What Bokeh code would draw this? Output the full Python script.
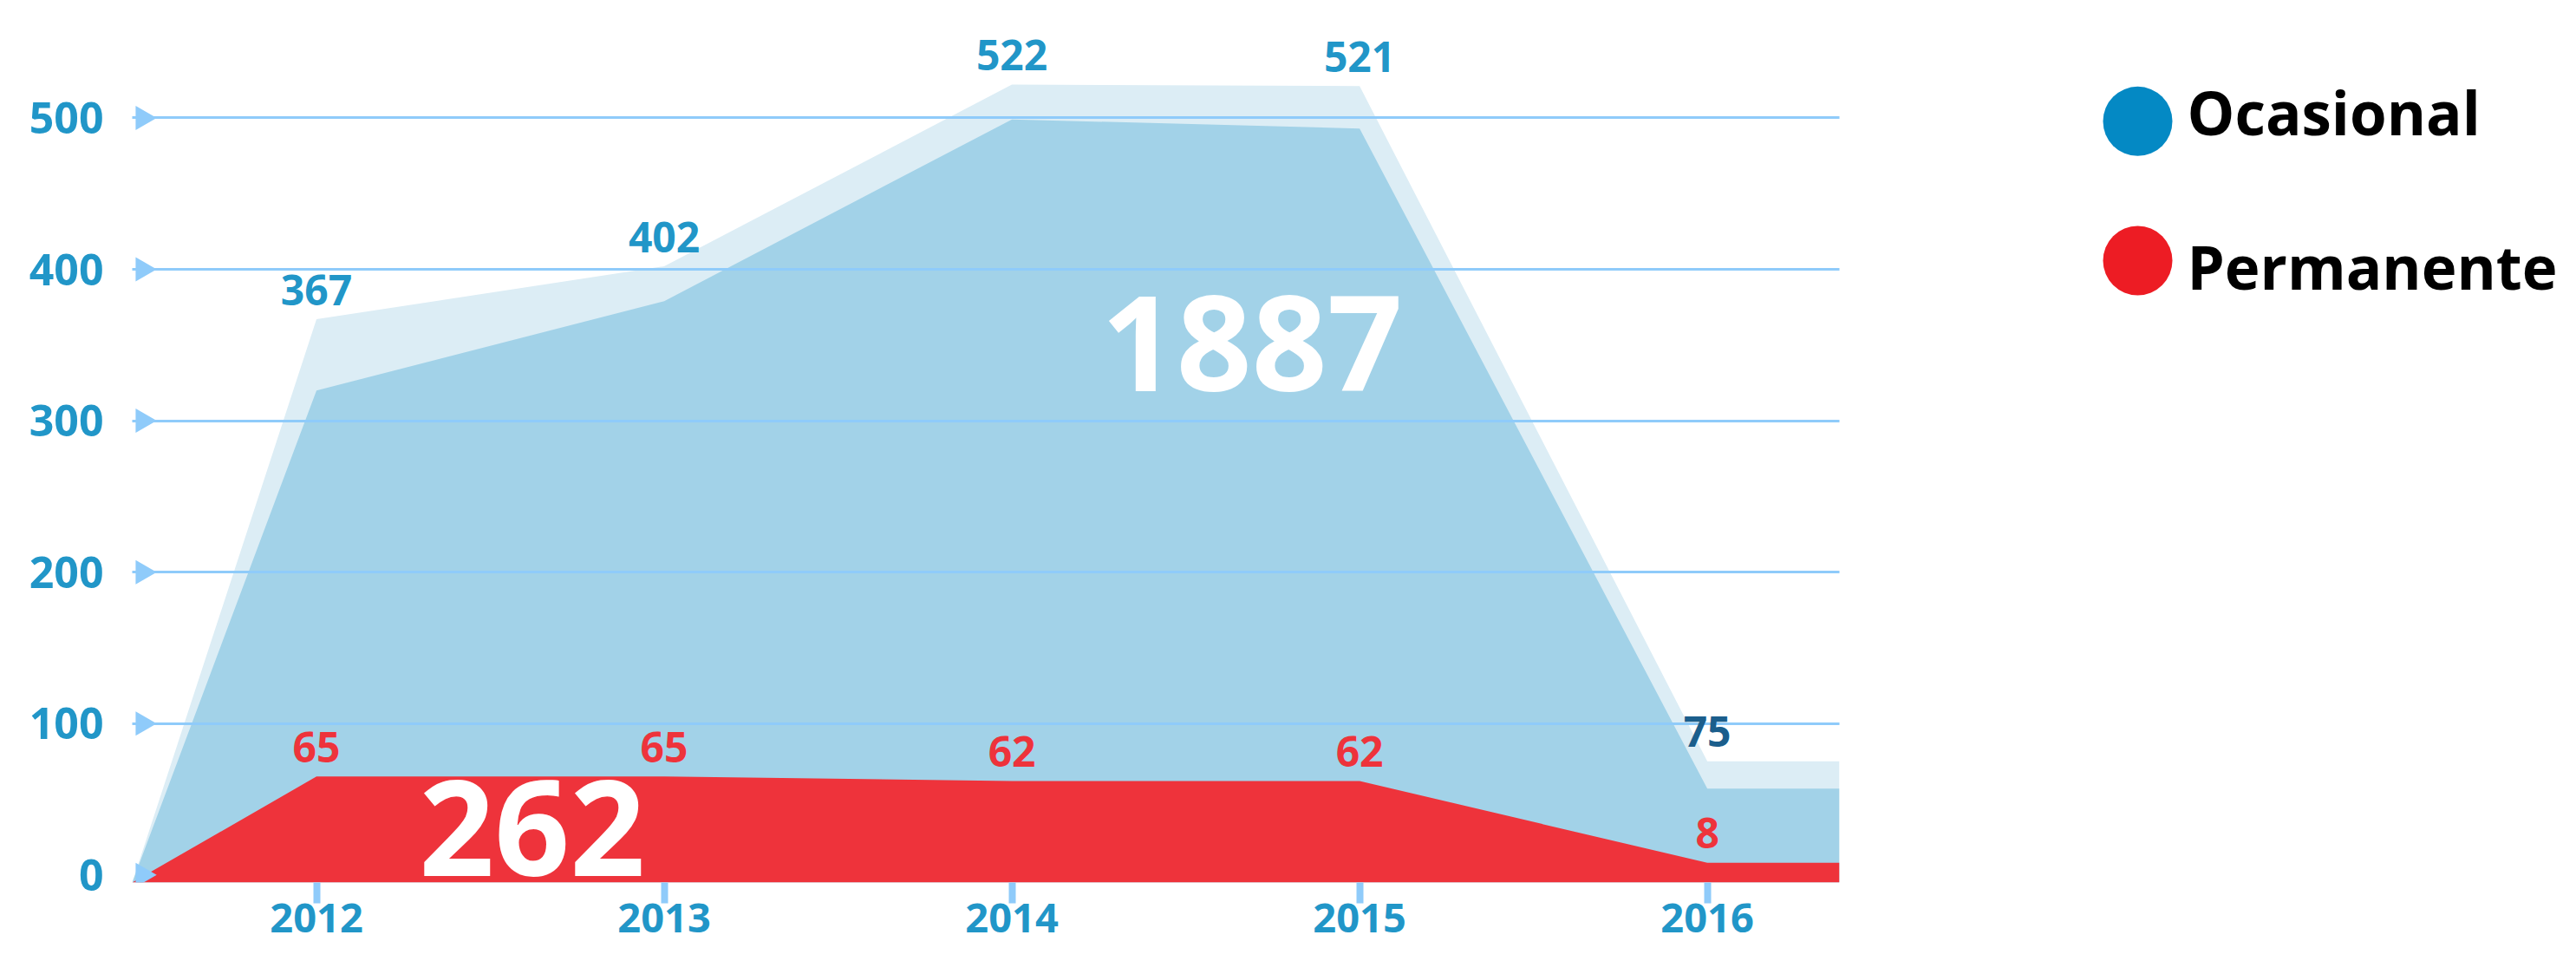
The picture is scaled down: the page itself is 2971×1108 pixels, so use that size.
from bokeh.plotting import figure
from bokeh.models import Range1d, FixedTicker, Label
from bokeh.layouts import row
from bokeh.embed import file_html
from bokeh.resources import INLINE
from bokeh.core.properties import value
import math

# ---------------- data ----------------
years = [2012, 2013, 2014, 2015, 2016]
ocasional = [367, 402, 522, 521, 75]
ocasional_front = [320, 379, 499, 493, 57]   # inner (darker) layer as drawn in the picture
permanente = [65, 65, 62, 62, 8]
y_ticks = [0, 100, 200, 300, 400, 500]
series_names = ["Ocasional", "Permanente"]

# ---------------- style ----------------
FONT = "Open Sans"
C_LIGHT = "#dcedf5"
C_DARK = "#a2d2e8"
C_RED = "#ee333b"
C_GRID = "#8fcbfa"
C_TXT = "#2196c8"
C_75 = "#1b5e8c"
C_LEG_BLUE = "#0489c4"
C_LEG_RED = "#ed1c24"

x_lo, x_hi = 2011.47, 2016.38
y_lo, y_hi = -5, 573

p = figure(width=2208, height=1106,
           x_range=Range1d(x_lo, x_hi), y_range=Range1d(y_lo, y_hi),
           output_backend="svg", toolbar_location=None,
           min_border_left=152, min_border_right=87,
           min_border_top=8, min_border_bottom=89,
           outline_line_color=None, background_fill_color="white")


def area_y(vals):
    return [y_lo] + list(vals) + [vals[-1]]


xs = [x_lo] + years + [x_hi]

p.varea(x=xs, y1=y_lo, y2=area_y(ocasional), fill_color=C_LIGHT)
p.varea(x=xs, y1=y_lo, y2=area_y(ocasional_front), fill_color=C_DARK)
p.varea(x=xs, y1=y_lo, y2=area_y(permanente), fill_color=C_RED)

# arrow heads at y ticks
p.scatter(x=[x_lo + 0.03] * len(y_ticks), y=y_ticks, marker="triangle",
          angle=-math.pi / 2, size=28, fill_color=C_GRID, line_color=None)

# grid
p.xgrid.visible = False
p.ygrid.ticker = FixedTicker(ticks=y_ticks[1:])
p.ygrid.grid_line_color = C_GRID
p.ygrid.grid_line_width = 3
p.ygrid.level = "guide"

# value labels
occ_colors = [C_TXT] * (len(years) - 1) + [C_75]
p.text(x=years, y=ocasional, text=[str(v) for v in ocasional],
       text_color=occ_colors, text_font=value(FONT), text_font_style="bold",
       text_font_size="48px", text_align="center", text_baseline="middle",
       y_offset=-34, level="annotation")
p.text(x=years, y=permanente, text=[str(v) for v in permanente],
       text_color=C_RED, text_font=value(FONT), text_font_style="bold",
       text_font_size="48px", text_align="center", text_baseline="middle",
       y_offset=-34, level="annotation")

# totals
p.add_layout(Label(x=2014.69, y=351, text=str(sum(ocasional)),
                   text_color="white", text_font=FONT, text_font_style="bold",
                   text_font_size="152px", text_align="center",
                   text_baseline="middle"))
p.add_layout(Label(x=2012.62, y=31, text=str(sum(permanente)),
                   text_color="white", text_font=FONT, text_font_style="bold",
                   text_font_size="152px", text_align="center",
                   text_baseline="middle"))

# axes
p.yaxis.ticker = FixedTicker(ticks=y_ticks)
p.yaxis.axis_line_color = None
p.yaxis.major_tick_out = 0
p.yaxis.major_tick_in = 0
p.yaxis.minor_tick_line_color = None
p.yaxis.major_label_standoff = 33
p.yaxis.major_label_text_font = FONT
p.yaxis.major_label_text_font_style = "bold"
p.yaxis.major_label_text_font_size = "50px"
p.yaxis.major_label_text_color = C_TXT

p.xaxis.ticker = FixedTicker(ticks=years)
p.xaxis.axis_line_color = None
p.xaxis.major_tick_out = 24
p.xaxis.major_tick_in = 0
p.xaxis.major_tick_line_color = C_GRID
p.xaxis.major_tick_line_width = 8
p.xaxis.minor_tick_line_color = None
p.xaxis.major_label_standoff = 0
p.xaxis.major_label_text_font = FONT
p.xaxis.major_label_text_font_style = "bold"
p.xaxis.major_label_text_font_size = "47px"
p.xaxis.major_label_text_color = C_TXT

# ---------------- legend panel ----------------
lg = figure(width=755, height=1106, x_range=Range1d(0, 755), y_range=Range1d(1106, 0),
            output_backend="svg", toolbar_location=None, min_border=0,
            x_axis_location=None, y_axis_location=None, outline_line_color=None)
lg.grid.visible = False
lg.scatter(x=[257, 257], y=[144, 320], marker="circle", size=80,
           fill_color=[C_LEG_BLUE, C_LEG_RED], line_color=None)
lg.text(x=[314, 314], y=[132, 327], text=series_names, text_color="black",
        text_font=value(FONT), text_font_style="bold", text_font_size="69px",
        text_align="left", text_baseline="middle")

layout = row(p, lg)
open("out.html", "w").write(file_html(layout, INLINE))
